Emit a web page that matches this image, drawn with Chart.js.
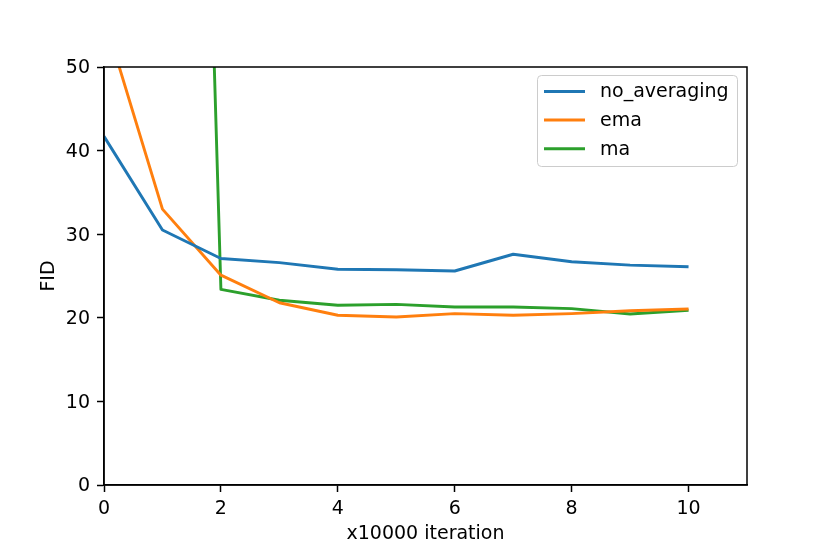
<!DOCTYPE html>
<html>
<head>
<meta charset="utf-8">
<script src="https://cdn.jsdelivr.net/npm/chart.js@4"></script>
<style>
html,body{margin:0;padding:0;background:#fff;}
#wrap{width:830px;height:554px;position:relative;}
</style>
</head>
<body>
<div id="wrap"><canvas id="c" width="830" height="554"></canvas></div>
<script>
const iterations = [0, 1, 2, 3, 4, 5, 6, 7, 8, 9, 10];
const noAveraging = [41.7, 30.5, 27.1, 26.6, 25.8, 25.75, 25.6, 27.6, 26.7, 26.3, 26.1];
const ema = [56.0, 33.0, 25.1, 21.8, 20.3, 20.1, 20.5, 20.3, 20.5, 20.85, 21.05];
const ma = [270, 259, 23.4, 22.1, 21.5, 21.6, 21.3, 21.3, 21.1, 20.45, 20.9];
const xTicks = [0, 2, 4, 6, 8, 10];
const yTicks = [0, 10, 20, 30, 40, 50];
const seriesNames = ['no_averaging', 'ema', 'ma'];
const seriesColors = ['#1f77b4', '#ff7f0e', '#2ca02c'];

const FONT = 'DejaVu Sans';
const pts = arr => iterations.map((x, i) => ({x: x, y: arr[i]}));

const framePlugin = {
  id: 'frame',
  afterDatasetsDraw(chart) {
    const {ctx, chartArea: a} = chart;
    ctx.save();
    ctx.strokeStyle = '#000';
    ctx.lineWidth = 1.5;
    ctx.strokeRect(a.left, a.top, a.right - a.left, a.bottom - a.top);
    ctx.restore();
  }
};

const legendPlugin = {
  id: 'innerLegend',
  afterDraw(chart) {
    const {ctx, chartArea: a} = chart;
    const w = 200, h = 91;
    const x0 = a.right - 10 - w, y0 = a.top + 8;
    ctx.save();
    ctx.beginPath();
    ctx.roundRect(x0 + 0.5, y0 + 0.5, w, h, 4);
    ctx.fillStyle = 'rgba(255,255,255,0.8)';
    ctx.fill();
    ctx.strokeStyle = '#cccccc';
    ctx.lineWidth = 1;
    ctx.stroke();
    ctx.font = '19px "' + FONT + '"';
    ctx.textBaseline = 'middle';
    ctx.textAlign = 'left';
    chart.data.datasets.forEach((ds, i) => {
      const yy = y0 + 16.5 + i * 28.6;
      ctx.beginPath();
      ctx.moveTo(x0 + 7, yy);
      ctx.lineTo(x0 + 48, yy);
      ctx.strokeStyle = ds.borderColor;
      ctx.lineWidth = 3;
      ctx.stroke();
      ctx.fillStyle = '#000';
      ctx.fillText(ds.label, x0 + 63, yy + 1);
    });
    ctx.restore();
  }
};

new Chart(document.getElementById('c'), {
  type: 'line',
  data: {
    datasets: [
      {label: seriesNames[0], data: pts(noAveraging), borderColor: seriesColors[0], backgroundColor: seriesColors[0]},
      {label: seriesNames[1], data: pts(ema), borderColor: seriesColors[1], backgroundColor: seriesColors[1]},
      {label: seriesNames[2], data: pts(ma), borderColor: seriesColors[2], backgroundColor: seriesColors[2]}
    ]
  },
  options: {
    responsive: false,
    animation: false,
    devicePixelRatio: 1,
    layout: {padding: {left: 0, top: 67, right: 83, bottom: 0}},
    elements: {
      line: {borderWidth: 2.9, tension: 0, borderCapStyle: 'butt', borderJoinStyle: 'round'},
      point: {radius: 0, hoverRadius: 0}
    },
    plugins: {legend: {display: false}, tooltip: {enabled: false}},
    scales: {
      x: {
        type: 'linear', min: 0, max: 11,
        afterBuildTicks: s => { s.ticks = xTicks.map(v => ({value: v})); },
        afterFit: s => { s.height = 69; },
        grid: {drawOnChartArea: false, drawTicks: true, tickLength: 7, tickWidth: 1.5, tickColor: '#000'},
        border: {display: true, color: '#000', width: 1.5},
        ticks: {color: '#000', padding: 6, font: {family: FONT, size: 19}, maxRotation: 0},
        title: {display: true, text: 'x10000 iteration', color: '#000', font: {family: FONT, size: 19}, padding: {top: 9, bottom: 9}}
      },
      y: {
        type: 'linear', min: 0, max: 50,
        afterBuildTicks: s => { s.ticks = yTicks.map(v => ({value: v})); },
        afterFit: s => { s.width = 104; },
        grid: {drawOnChartArea: false, drawTicks: true, tickLength: 7, tickWidth: 1.5, tickColor: '#000'},
        border: {display: true, color: '#000', width: 1.5},
        ticks: {color: '#000', padding: 7, labelOffset: 1.5, font: {family: FONT, size: 19}},
        title: {display: true, text: 'FID', color: '#000', font: {family: FONT, size: 19}, padding: {top: 38, bottom: 38}}
      }
    }
  },
  plugins: [framePlugin, legendPlugin]
});
</script>
</body>
</html>
